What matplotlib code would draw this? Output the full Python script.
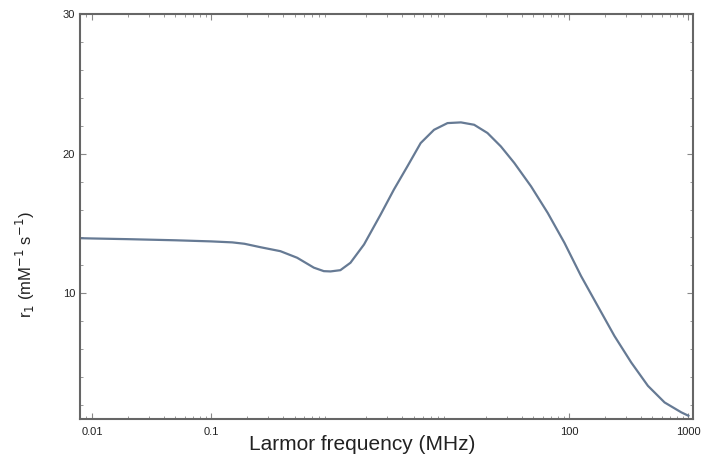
import numpy as np
import matplotlib
matplotlib.use('Agg')
import matplotlib.pyplot as plt
from matplotlib.ticker import FixedLocator, NullFormatter, LogLocator

# r1 NMRD profile
freq = [0.0079, 0.01, 0.02, 0.05, 0.1, 0.15, 0.19, 0.26, 0.38, 0.525, 0.725, 0.879,
        1.0, 1.21, 1.47, 1.91, 2.63, 3.40, 4.41, 5.70, 7.38, 9.57, 12.4, 16.0, 20.7,
        26.8, 34.7, 48.0, 66.2, 91.4, 126.0, 174.0, 240.0, 332.0, 458.0, 632.0, 873.0,
        1000.0]
r1 = [13.95, 13.93, 13.88, 13.8, 13.72, 13.65, 13.55, 13.3, 13.02, 12.55, 11.84, 11.59,
      11.57, 11.66, 12.19, 13.5, 15.64, 17.43, 19.09, 20.76, 21.71, 22.19, 22.24, 22.07,
      21.48, 20.52, 19.34, 17.66, 15.76, 13.62, 11.24, 9.09, 6.95, 5.05, 3.38, 2.19, 1.48,
      1.24]

xticks = [0.01, 0.1, 100, 1000]
xticklabels = ['0.01', '0.1', '100', '1000']
yticks = [10, 20, 30]

plt.rcParams['font.family'] = ['Liberation Sans', 'DejaVu Sans']

fig = plt.figure(figsize=(7.08, 4.59), dpi=100)
ax = fig.add_axes([0.113, 0.087, 0.866, 0.8825])

ax.plot(freq, r1, color='#667a94', lw=1.6, solid_joinstyle='round')

ax.set_xscale('log')
ax.set_xlim(10**-2.1, 10**3.04)
ax.set_ylim(1, 30)

ax.xaxis.set_major_locator(FixedLocator(xticks))
ax.set_xticklabels(xticklabels)
ax.xaxis.set_minor_locator(LogLocator(base=10, subs=np.arange(2, 10), numticks=20))
ax.xaxis.set_minor_formatter(NullFormatter())
ax.set_yticks(yticks)
ax.yaxis.set_minor_locator(FixedLocator(np.arange(2, 30, 2)))

ax.tick_params(which='both', direction='in', top=True, right=True, colors='#888888',
               labelcolor='#222222', labelsize=8)
ax.tick_params(which='major', length=4, width=0.8)
ax.tick_params(which='minor', length=2, width=0.6)
ax.tick_params(axis='x', pad=6)
for s in ax.spines.values():
    s.set_color('#666666')
    s.set_linewidth(1.5)

ax.set_xlabel('Larmor frequency (MHz)', fontsize=15, color='#222222')
ax.xaxis.set_label_coords(0.46, -0.04)
ax.set_ylabel('r$_1$ (mM$^{-1}$ s$^{-1}$)', fontsize=12, color='#222222')
ax.yaxis.set_label_coords(-0.07, 0.38)

fig.savefig('out.png', dpi=100)
